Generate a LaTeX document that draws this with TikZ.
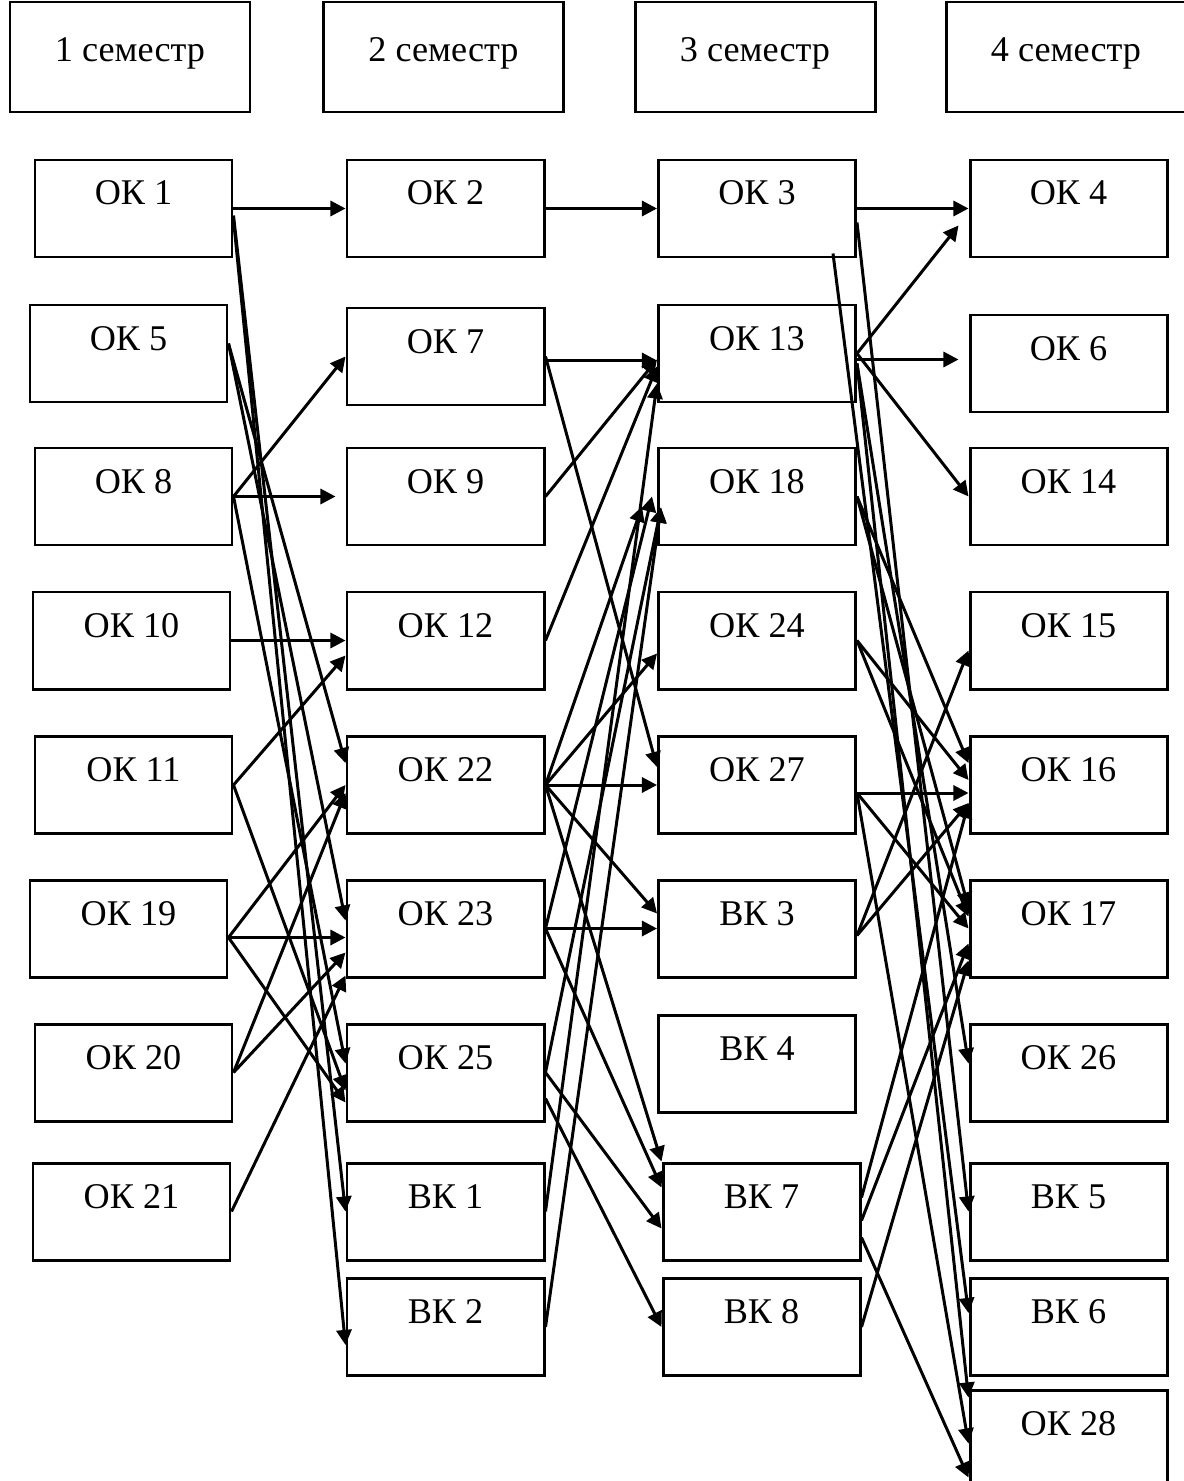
\documentclass[tikz,border=0pt]{standalone}
\usepackage{fontspec}
\setmainfont{Liberation Serif}
\usepackage{tikz}
\usetikzlibrary{arrows.meta}

\begin{document}
\begin{tikzpicture}[
    sem/.style={draw, line width=.85pt, minimum width=2.4cm, inner sep=0pt,
                text height=.6cm, text depth=.5cm, font=\fontsize{10.3}{12}\selectfont},
    box/.style={draw, line width=.85pt, minimum width=1.97cm, inner sep=0pt,
                text height=.45cm, text depth=.52cm, font=\fontsize{10.3}{12}\selectfont},
    arr/.style={-{Triangle[length=4.3pt,width=4.3pt]}, line width=.85pt}
  ]
    \useasboundingbox (0,0) rectangle (11.84,-14.81);

    \node[sem] (sem1) at (1.30,-0.57)  {1 семестр};
    \node[sem] (sem2) at (4.435,-0.57) {2 семестр};
    \node[sem] (sem3) at (7.55,-0.57)  {3 семестр};
    \node[sem] (sem4) at (10.66,-0.57) {4 семестр};

    % 1 semester
    \node[box] (ok1)  at (1.335,-2.085)  {ОК 1};
    \node[box] (ok5)  at (1.285,-3.535)  {ОК 5};
    \node[box] (ok8)  at (1.335,-4.965)  {ОК 8};
    \node[box] (ok10) at (1.315,-6.405)  {ОК 10};
    \node[box] (ok11) at (1.335,-7.85)   {ОК 11};
    \node[box] (ok19) at (1.285,-9.285)  {ОК 19};
    \node[box] (ok20) at (1.335,-10.725) {ОК 20};
    \node[box] (ok21) at (1.315,-12.115) {ОК 21};

    % 2 semester
    \node[box] (ok2)  at (4.455,-2.085)  {ОК 2};
    \node[box] (ok7)  at (4.455,-3.565)  {ОК 7};
    \node[box] (ok9)  at (4.455,-4.965)  {ОК 9};
    \node[box] (ok12) at (4.455,-6.405)  {ОК 12};
    \node[box] (ok22) at (4.455,-7.85)   {ОК 22};
    \node[box] (ok23) at (4.455,-9.285)  {ОК 23};
    \node[box] (ok25) at (4.455,-10.725) {ОК 25};
    \node[box] (vk1)  at (4.455,-12.115) {ВК 1};
    \node[box] (vk2)  at (4.455,-13.27)  {ВК 2};

    % 3 semester
    \node[box] (ok3)  at (7.57,-2.085)   {ОК 3};
    \node[box] (ok13) at (7.57,-3.535)   {ОК 13};
    \node[box] (ok18) at (7.57,-4.965)   {ОК 18};
    \node[box] (ok24) at (7.57,-6.405)   {ОК 24};
    \node[box] (ok27) at (7.57,-7.85)    {ОК 27};
    \node[box] (vk3)  at (7.57,-9.285)   {ВК 3};
    \node[box] (vk4)  at (7.57,-10.64)   {ВК 4};
    \node[box] (vk7)  at (7.615,-12.115) {ВК 7};
    \node[box] (vk8)  at (7.615,-13.27)  {ВК 8};

    % 4 semester
    \node[box] (ok4)  at (10.685,-2.085)  {ОК 4};
    \node[box] (ok6)  at (10.685,-3.635)  {ОК 6};
    \node[box] (ok14) at (10.685,-4.965)  {ОК 14};
    \node[box] (ok15) at (10.685,-6.405)  {ОК 15};
    \node[box] (ok16) at (10.685,-7.85)   {ОК 16};
    \node[box] (ok17) at (10.685,-9.285)  {ОК 17};
    \node[box] (ok26) at (10.685,-10.725) {ОК 26};
    \node[box] (vk5)  at (10.685,-12.115) {ВК 5};
    \node[box] (vk6)  at (10.685,-13.27)  {ВК 6};
    \node[box] (ok28) at (10.685,-14.385) {ОК 28};

    % 1 -> 2
    \draw[arr] (ok1.east) -- (ok2.west);
    \draw[arr] ([yshift=-0.7mm]ok1.east) -- (vk1.west);
    \draw[arr] ([yshift=-1.1mm]ok1.east) -- ([yshift=-1.8mm]vk2.west);
    \draw[arr] ([yshift=1mm]ok5.east) -- ([yshift=2.2mm]ok22.west);
    \draw[arr] ([yshift=1mm]ok5.east) -- ([yshift=0.8mm]ok23.west);
    \draw[arr] (ok8.east) -- (ok7.west);
    \draw[arr] (ok8.east) -- ([xshift=-1mm]ok9.west);
    \draw[arr] (ok8.east) -- ([yshift=0.9mm]ok25.west);
    \draw[arr] (ok10.east) -- (ok12.west);
    \draw[arr] (ok11.east) -- ([yshift=-1.5mm]ok12.west);
    \draw[arr] (ok11.east) -- ([yshift=-1.8mm]ok25.west);
    \draw[arr] ([yshift=-0.9mm]ok19.east) -- (ok22.west);
    \draw[arr] ([yshift=-0.9mm]ok19.east) -- ([yshift=-0.9mm]ok23.west);
    \draw[arr] ([yshift=-0.9mm]ok19.east) -- ([yshift=-3mm]ok25.west);
    \draw[arr] (ok20.east) -- ([yshift=-0.8mm]ok22.west);
    \draw[arr] (ok20.east) -- ([yshift=-2.4mm]ok23.west);
    \draw[arr] (ok21.east) -- ([yshift=-4.7mm]ok23.west);

    % 2 -> 3
    \draw[arr] (ok2.east) -- (ok3.west);
    \draw[arr] ([yshift=-0.4mm]ok7.east) -- ([yshift=-0.7mm]ok13.west);
    \draw[arr] (ok7.east) -- ([yshift=1.8mm]ok27.west);
    \draw[arr] (ok9.east) -- ([yshift=-0.6mm]ok13.west);
    \draw[arr] (ok12.east) -- ([yshift=-1.3mm]ok13.west);
    \draw[arr] (vk1.east) -- ([yshift=-3mm]ok13.west);
    \draw[arr] (ok22.east) -- ([xshift=-1.5mm,yshift=-1mm]ok18.west);
    \draw[arr] (ok23.east) -- ([xshift=-0.5mm]ok18.west);
    \draw[arr] (ok25.east) -- ([xshift=0.4mm,yshift=-1.1mm]ok18.west);
    \draw[arr] (vk2.east) -- ([xshift=0.4mm,yshift=-1.1mm]ok18.west);
    \draw[arr] (ok22.east) -- ([yshift=-1.3mm]ok24.west);
    \draw[arr] (ok22.east) -- (ok27.west);
    \draw[arr] (ok22.east) -- ([yshift=1.5mm]vk3.west);
    \draw[arr] (ok22.east) -- (vk7.north west);
    \draw[arr] (ok23.east) -- (vk3.west);
    \draw[arr] (ok23.east) -- ([yshift=2.4mm]vk7.west);
    \draw[arr] (ok25.east) -- ([yshift=-1.7mm]vk7.west);
    \draw[arr] ([yshift=-2.6mm]ok25.east) -- (vk8.west);

    % 3 -> 4
    \draw[arr] (ok3.east) -- (ok4.west);
    \draw[arr] ([yshift=-1.4mm]ok3.east) -- (vk5.west);
    \draw[arr] ([shift={(-0.24,0.05)}]ok3.south east) -- ([yshift=1.4mm]vk6.west);
    \draw[arr] (ok13.east) -- ([xshift=-1mm,yshift=-1.7mm]ok4.west);
    \draw[arr] ([yshift=-0.6mm]ok13.east) -- ([xshift=-1mm,yshift=0.4mm]ok6.west);
    \draw[arr] (ok13.east) -- (ok14.west);
    \draw[arr] ([yshift=-1mm]ok13.east) -- ([yshift=0.9mm]ok26.west);
    \draw[arr] ([yshift=-1mm]ok13.east) -- ([yshift=4.1mm]ok28.west);
    \draw[arr] (ok18.east) -- ([yshift=2.2mm]ok16.west);
    \draw[arr] (ok18.east) -- ([yshift=2.1mm]ok17.west);
    \draw[arr] (ok24.east) -- ([yshift=0.5mm]ok16.west);
    \draw[arr] (ok24.east) -- ([yshift=1.2mm]ok17.west);
    \draw[arr] ([yshift=-0.8mm]ok27.east) -- ([yshift=-0.8mm]ok16.west);
    \draw[arr] ([yshift=-0.8mm]ok27.east) -- (ok17.west);
    \draw[arr] ([yshift=-0.8mm]ok27.east) -- ([yshift=-0.5mm]ok28.west);
    \draw[arr] ([yshift=-0.7mm]vk3.east) -- ([yshift=-1mm]ok15.west);
    \draw[arr] ([yshift=-0.7mm]vk3.east) -- ([yshift=-1.8mm]ok16.west);
    \draw[arr] ([yshift=1.4mm]vk7.east) -- ([yshift=-1.8mm]ok16.west);
    \draw[arr] ([yshift=-0.9mm]vk7.east) -- ([yshift=-1.5mm]ok17.west);
    \draw[arr] ([yshift=-2.6mm]vk7.east) -- ([yshift=-3.9mm]ok28.west);
    \draw[arr] (vk8.east) -- ([yshift=-3.2mm]ok17.west);
\end{tikzpicture}
\end{document}
